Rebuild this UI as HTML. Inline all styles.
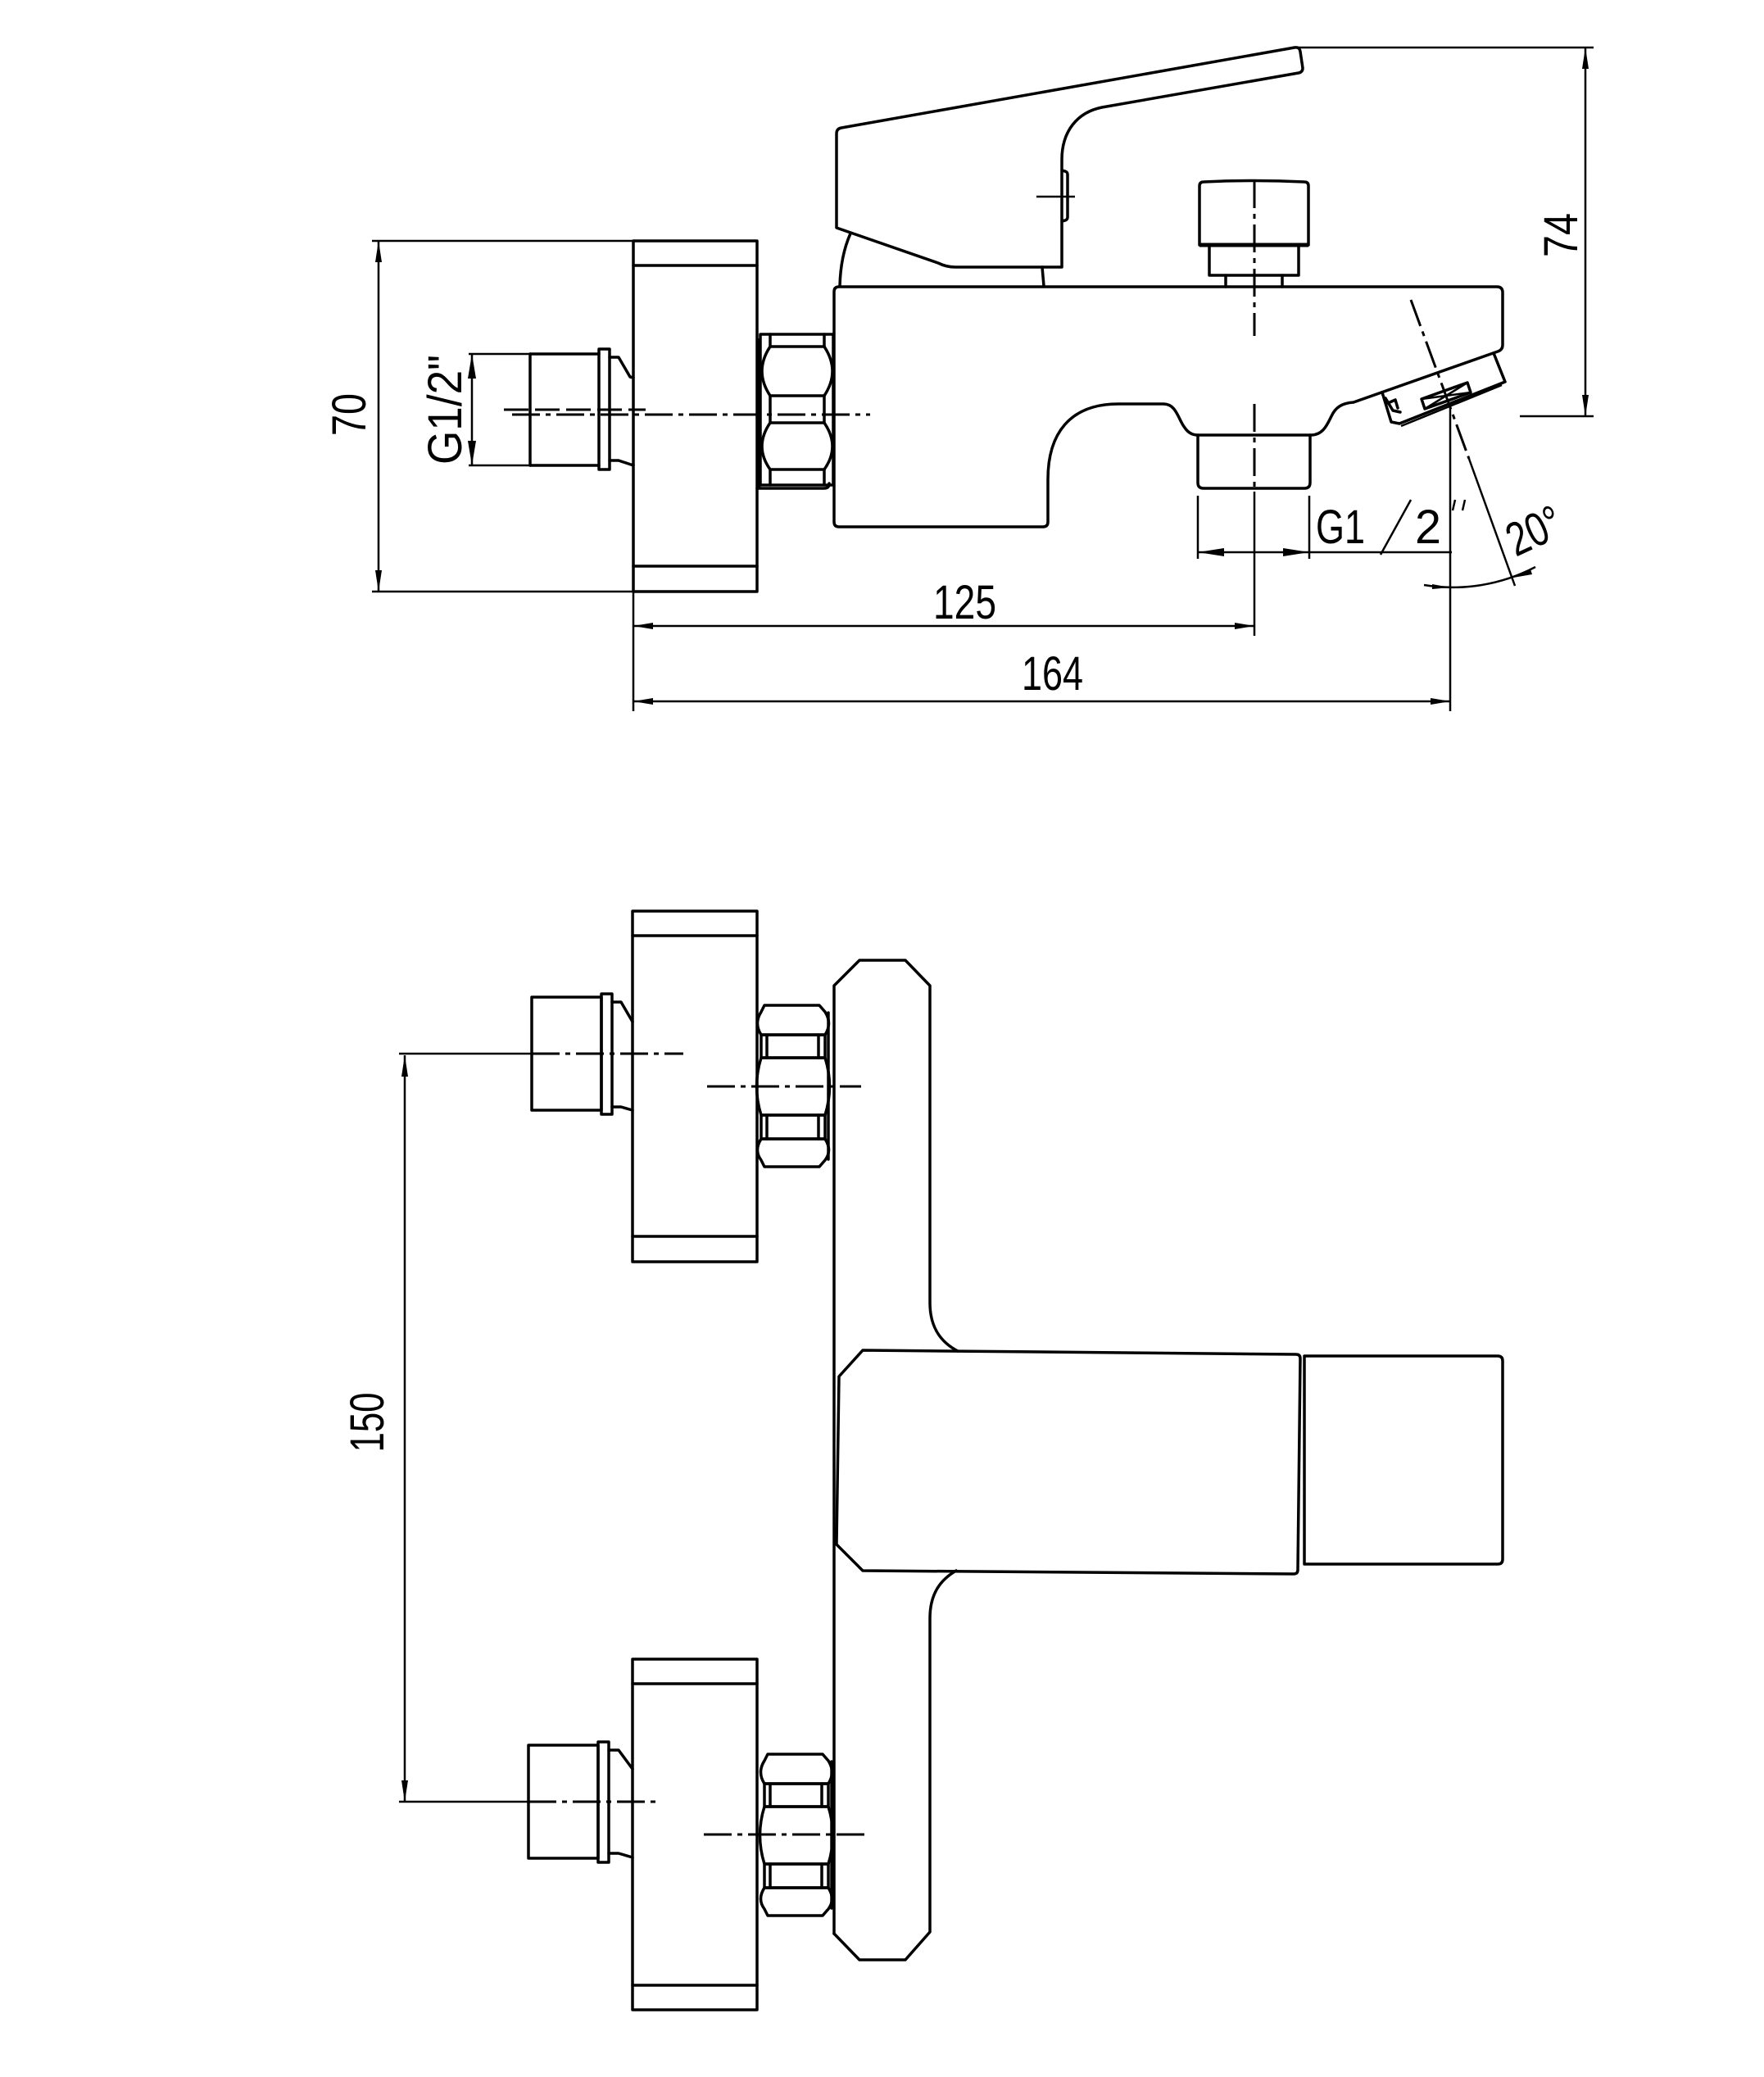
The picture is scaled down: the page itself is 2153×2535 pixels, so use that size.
<!DOCTYPE html>
<html>
<head>
<meta charset="utf-8">
<style>
html,body{margin:0;padding:0;background:#fff;}
svg{display:block;}
.o{fill:none;stroke:#000;stroke-width:3.5;stroke-linejoin:round;stroke-linecap:round}
.d{fill:none;stroke:#000;stroke-width:2.5}
.c{fill:none;stroke:#000;stroke-width:3;stroke-dasharray:34 7 6 7}
.a{fill:#000;stroke:none}
text{font-family:"Liberation Sans",sans-serif;font-size:58px;fill:#000}
</style>
</head>
<body>
<svg width="2153" height="2535" viewBox="0 0 2153 2535" xmlns="http://www.w3.org/2000/svg">
<rect width="2153" height="2535" fill="#fff"/>

<!-- ================= TOP (SIDE) VIEW ================= -->

<!-- 70 dimension -->
<line class="d" x1="454" y1="294" x2="773" y2="294"/>
<line class="d" x1="454" y1="722" x2="773" y2="722"/>
<line class="d" x1="462" y1="294" x2="462" y2="722"/>
<polygon class="a" points="462,294 458,320 466,320"/>
<polygon class="a" points="462,722 458,696 466,696"/>
<text transform="translate(446,506) rotate(-90)" text-anchor="middle" textLength="52" lengthAdjust="spacingAndGlyphs">70</text>

<!-- flange -->
<rect class="o" x="773" y="294" width="151" height="428"/>
<line class="o" x1="773" y1="324" x2="924" y2="324"/>
<line class="o" x1="773" y1="691" x2="924" y2="691"/>

<!-- fitting -->
<line class="d" x1="572" y1="432" x2="647" y2="432"/>
<line class="d" x1="572" y1="568" x2="647" y2="568"/>
<line class="o" x1="647" y1="432" x2="731" y2="432"/>
<line class="o" x1="647" y1="568" x2="731" y2="568"/>
<line class="o" x1="647" y1="432" x2="647" y2="568"/>
<rect class="o" x="731" y="426" width="13" height="147"/>
<polyline class="o" points="744,436 755,436 769,460 773,461"/>
<polyline class="o" points="744,562 755,562 773,568"/>
<line class="d" x1="576" y1="432" x2="576" y2="568"/>
<polygon class="a" points="576,432 571,462 581,462"/>
<polygon class="a" points="576,568 571,538 581,538"/>
<text transform="translate(563,500) rotate(-90)" text-anchor="middle" textLength="134" lengthAdjust="spacingAndGlyphs">G1/2"</text>

<!-- centre lines -->
<line x1="615" y1="500" x2="788" y2="500" stroke="#000" stroke-width="3" stroke-dasharray="30 8"/>
<line class="c" x1="625" y1="506" x2="1062" y2="506"/>

<!-- nut (side) -->
<line x1="926" y1="413" x2="926" y2="596" stroke="#000" stroke-width="5"/>
<rect class="o" x="928" y="408" width="89" height="184"/>
<line class="o" x1="940" y1="408" x2="940" y2="423"/>
<line class="o" x1="1006" y1="408" x2="1006" y2="423"/>
<line class="o" x1="940" y1="423" x2="1006" y2="423"/>
<path class="o" d="M940,423 Q920,453 940,483 M1006,423 Q1026,453 1006,483"/>
<line class="o" x1="940" y1="483" x2="1006" y2="483"/>
<line class="o" x1="940" y1="483" x2="940" y2="516"/>
<line class="o" x1="1006" y1="483" x2="1006" y2="516"/>
<line class="o" x1="940" y1="516" x2="1006" y2="516"/>
<path class="o" d="M940,516 Q920,545 940,573 M1006,516 Q1026,545 1006,573"/>
<line class="o" x1="940" y1="573" x2="1006" y2="573"/>
<line class="o" x1="940" y1="573" x2="940" y2="592"/>
<line class="o" x1="1006" y1="573" x2="1006" y2="592"/>
<path class="o" d="M924,596 L1006,596 Q1012,596 1012,590"/>

<!-- body -->
<path class="o" d="M1024,350 L1827,350 Q1834,350 1834,357 L1834,421 Q1834,427 1828,429 L1652,491 C1638,492 1630,497 1625,508 C1620,518 1615,531 1600,531 L1462,531 C1455,531 1450,528 1446,522 C1438,512 1436,493 1420,493 L1365,493 C1305,493 1279,530 1279,585 L1279,637 Q1279,643 1273,643 L1024,643 Q1018,643 1018,637 L1018,356 Q1018,350 1024,350 Z"/>

<!-- lever -->
<path class="o" d="M1038,285 Q1026,312 1025,349"/>
<line class="o" x1="1272" y1="326" x2="1274" y2="349"/>
<path class="o" d="M1021,278 L1021,163 Q1021,157 1027,156 L1580,58 Q1586,57 1587,63 L1590,83 Q1590,88 1585,89 L1345,131 C1315,137 1296,160 1296,195 L1296,326 L1166,326 Q1155,326 1145,321 Z"/>
<path class="o" d="M1296,208 L1300,209 Q1303,210 1303,213 L1303,265 Q1303,268 1300,269 L1296,270"/>
<line class="d" x1="1265" y1="240" x2="1312" y2="240"/>

<!-- knob -->
<path class="o" d="M1464,299 L1464,227 Q1464,222 1469,222 Q1530,219 1592,222 Q1597,222 1597,227 L1597,299"/>
<line x1="1464" y1="299" x2="1597" y2="299" stroke="#000" stroke-width="5"/>
<rect class="o" x="1476" y="299" width="109" height="37"/>
<line class="o" x1="1496" y1="336" x2="1496" y2="350"/>
<line class="o" x1="1565" y1="336" x2="1565" y2="350"/>
<line class="c" x1="1531" y1="220" x2="1531" y2="410"/>

<!-- outlet -->
<path class="o" d="M1462,531 L1462,589 Q1462,596 1469,596 L1592,596 Q1599,596 1599,589 L1599,531"/>
<line class="c" x1="1531" y1="493" x2="1531" y2="600"/>
<line class="d" x1="1531" y1="600" x2="1531" y2="776"/>

<!-- aerator -->
<polyline class="o" points="1823,431 1837,466 1708,517 1698,515 1687,479"/>
<line class="d" x1="1833" y1="470" x2="1710" y2="520"/>
<polygon class="o" points="1735,487 1791,467 1795,479 1739,499"/>
<line class="d" x1="1735" y1="487" x2="1795" y2="479"/>
<line class="d" x1="1791" y1="467" x2="1739" y2="499"/>
<path class="o" d="M1691,486 L1700,501 L1709,503 M1694,492 L1703,488 L1706,498" stroke-width="2.5"/>

<!-- angle axis -->
<line class="c" x1="1722" y1="366" x2="1793" y2="560"/>
<line class="d" x1="1793" y1="560" x2="1849" y2="715" stroke-width="3"/>
<path class="d" d="M1738,714 A217,217 0 0 0 1874,692"/>
<polygon class="a" points="1770,717 1748,713 1748,719"/>
<polygon class="a" points="1847,705 1868,695 1870,701"/>
<text transform="translate(1850,680) rotate(-25)" textLength="68" lengthAdjust="spacingAndGlyphs">20°</text>

<!-- G1/2 horizontal dimension -->
<line class="d" x1="1462" y1="605" x2="1462" y2="682"/>
<line class="d" x1="1598" y1="605" x2="1598" y2="682"/>
<line class="d" x1="1462" y1="674" x2="1772" y2="674"/>
<polygon class="a" points="1462,674 1494,669 1494,679"/>
<polygon class="a" points="1598,674 1566,669 1566,679"/>
<text x="1606" y="663" font-size="62" textLength="60" lengthAdjust="spacingAndGlyphs">G1</text>
<line class="d" x1="1685" y1="677" x2="1722" y2="610" stroke-width="3"/>
<text x="1727" y="663" font-size="62" textLength="32" lengthAdjust="spacingAndGlyphs">2</text>
<line class="d" x1="1776" y1="610" x2="1773" y2="623" stroke-width="3.5"/>
<line class="d" x1="1788" y1="610" x2="1785" y2="623" stroke-width="3.5"/>

<!-- extension lines -->
<line class="d" x1="1770" y1="493" x2="1770" y2="868"/>
<line class="d" x1="773" y1="722" x2="773" y2="868"/>

<!-- 125 -->
<line class="d" x1="773" y1="764" x2="1531" y2="764"/>
<polygon class="a" points="773,764 797,760 797,768"/>
<polygon class="a" points="1531,764 1507,760 1507,768"/>
<text x="1139" y="755" textLength="77" lengthAdjust="spacingAndGlyphs">125</text>

<!-- 164 -->
<line class="d" x1="773" y1="856" x2="1770" y2="856"/>
<polygon class="a" points="773,856 797,852 797,860"/>
<polygon class="a" points="1770,856 1746,852 1746,860"/>
<text x="1247" y="842" textLength="75" lengthAdjust="spacingAndGlyphs">164</text>

<!-- 74 -->
<line class="d" x1="1580" y1="58" x2="1945" y2="58"/>
<line class="d" x1="1855" y1="508" x2="1945" y2="508"/>
<line class="d" x1="1935" y1="58" x2="1935" y2="508"/>
<polygon class="a" points="1935,58 1931,84 1939,84"/>
<polygon class="a" points="1935,508 1931,482 1939,482"/>
<text transform="translate(1925,287) rotate(-90)" text-anchor="middle" textLength="54" lengthAdjust="spacingAndGlyphs">74</text>

<!-- ================= BOTTOM (FRONT) VIEW ================= -->

<!-- 150 dimension -->
<line class="d" x1="494" y1="1288" x2="494" y2="2199"/>
<polygon class="a" points="494,1288 490,1314 498,1314"/>
<polygon class="a" points="494,2199 490,2173 498,2173"/>
<text transform="translate(468,1736) rotate(-90)" text-anchor="middle" textLength="73" lengthAdjust="spacingAndGlyphs">150</text>

<!-- upper flange -->
<rect class="o" x="772" y="1112" width="152" height="428"/>
<line class="o" x1="772" y1="1142" x2="924" y2="1142"/>
<line class="o" x1="772" y1="1509" x2="924" y2="1509"/>

<!-- upper fitting -->
<rect class="o" x="649" y="1217" width="85" height="138"/>
<rect class="o" x="734" y="1213" width="13" height="147"/>
<polyline class="o" points="747,1223 758,1223 772,1247"/>
<polyline class="o" points="747,1351 758,1351 772,1355"/>
<line class="d" x1="487" y1="1286" x2="649" y2="1286" stroke-width="3"/>
<line class="c" x1="649" y1="1286" x2="834" y2="1286"/>
<line class="c" x1="863" y1="1326" x2="1051" y2="1326"/>

<!-- nut (front) -->
<g id="nutf">
<path class="o" d="M933,1227 L1000,1227 L1007,1235 Q1016,1249 1007,1263 L929,1263 Q920,1249 929,1235 Z"/>
<rect class="o" x="929" y="1263" width="78" height="28"/>
<line class="o" x1="936" y1="1263" x2="936" y2="1291"/>
<line class="o" x1="999" y1="1263" x2="999" y2="1291"/>
<path class="o" d="M929,1291 L1007,1291 Q1018,1326 1007,1361 L929,1361 Q918,1326 929,1291 Z"/>
<rect class="o" x="929" y="1361" width="78" height="29"/>
<line class="o" x1="936" y1="1361" x2="936" y2="1390"/>
<line class="o" x1="999" y1="1361" x2="999" y2="1390"/>
<path class="o" d="M929,1390 L1007,1390 Q1016,1404 1007,1416 L1000,1424 L933,1424 L929,1416 Q920,1404 929,1390 Z"/>
<line class="o" x1="1011" y1="1236" x2="1011" y2="1415"/>
</g>

<!-- plate -->
<path class="o" d="M1018,2360 L1018,1203 L1049,1172 L1105,1172 L1135,1203 L1135,1590 C1135,1620 1148,1638 1169,1649"/>
<path class="o" d="M1167,1917 C1148,1928 1135,1945 1135,1975 L1135,2358 L1105,2392 L1049,2392 L1018,2360"/>

<!-- spout block -->
<path class="o" d="M1053,1648 L1582,1653 Q1587,1653 1587,1658 L1584,1916 Q1584,1921 1579,1921 L1053,1917 L1021,1885 L1024,1680 Z"/>
<path class="o" d="M1592,1655 L1828,1655 Q1834,1655 1834,1661 L1834,1903 Q1834,1909 1828,1909 L1592,1909 Z"/>

<!-- lower flange -->
<rect class="o" x="772" y="2025" width="152" height="428"/>
<line class="o" x1="772" y1="2055" x2="924" y2="2055"/>
<line class="o" x1="772" y1="2423" x2="924" y2="2423"/>

<!-- lower fitting -->
<rect class="o" x="645" y="2130" width="85" height="138"/>
<rect class="o" x="730" y="2126" width="13" height="147"/>
<polyline class="o" points="743,2136 755,2136 772,2159"/>
<polyline class="o" points="743,2262 755,2262 772,2267"/>
<line class="d" x1="487" y1="2199" x2="645" y2="2199" stroke-width="3"/>
<line class="c" x1="645" y1="2199" x2="803" y2="2199"/>
<line class="c" x1="859" y1="2239" x2="1060" y2="2239"/>

<!-- lower nut -->
<use href="#nutf" transform="translate(4,914)"/>

</svg>
</body>
</html>
